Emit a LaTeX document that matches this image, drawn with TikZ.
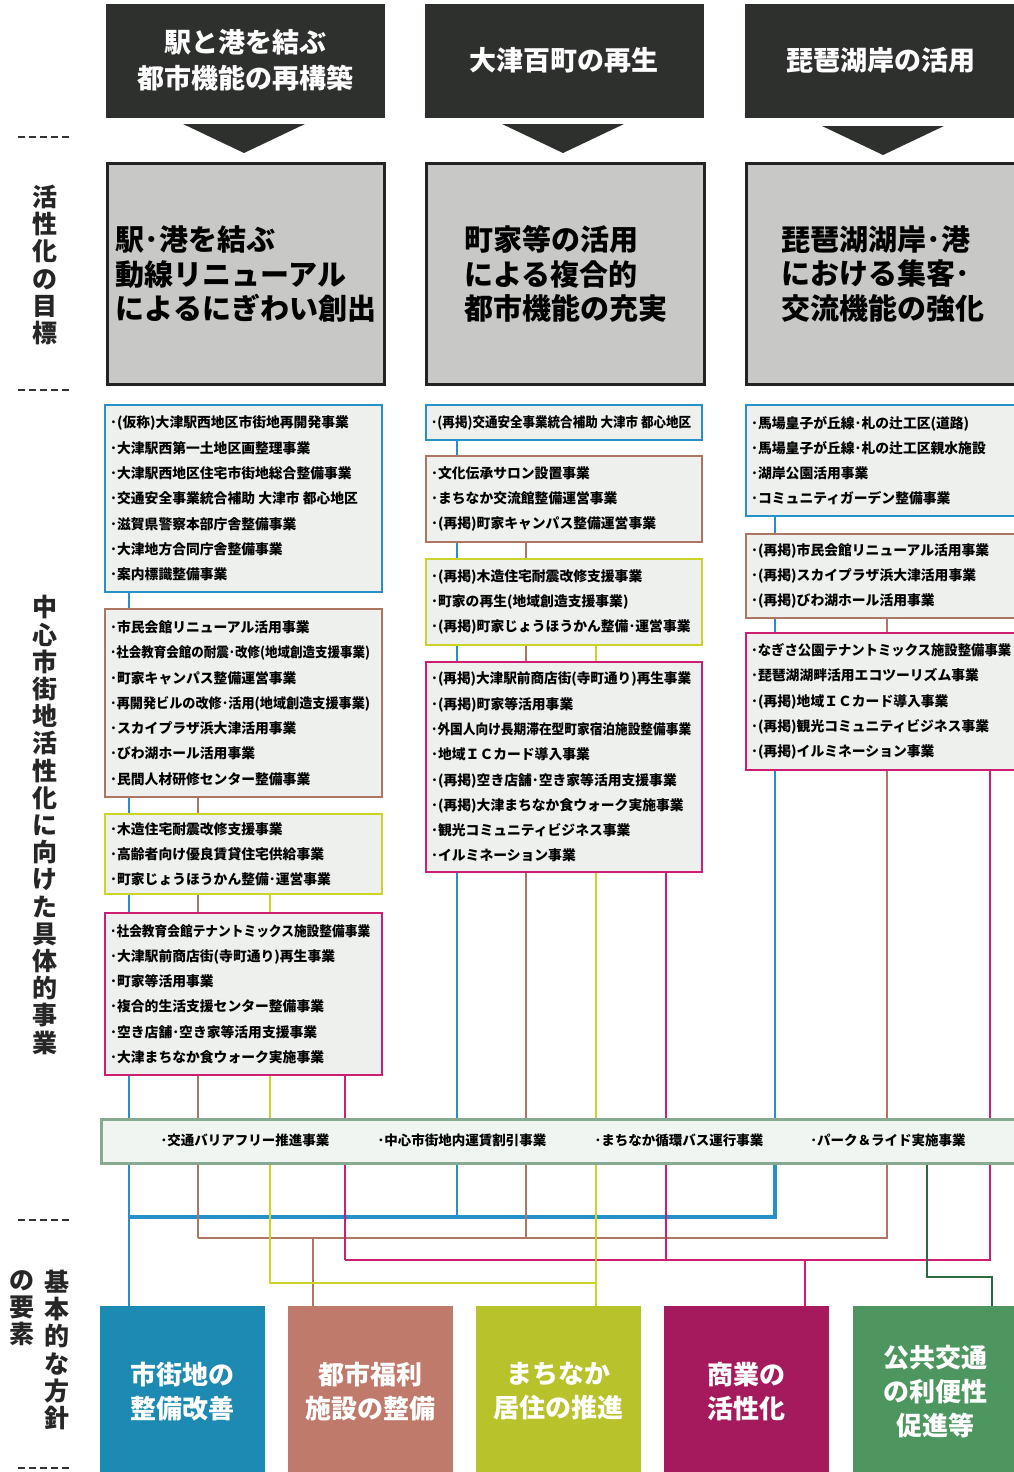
\documentclass[tikz,border=0pt]{standalone}
\usepackage{graphicx}
\usepackage{fontspec}
\setmainfont{Noto Sans CJK JP}
\pgfdeclarelayer{bg}
\pgfsetlayers{bg,main}
\definecolor{hdr}{RGB}{46,48,46}
\definecolor{goalfill}{RGB}{200,201,198}
\definecolor{goalline}{RGB}{35,35,35}
\definecolor{pfill}{RGB}{238,240,238}
\definecolor{cB}{RGB}{38,145,200}
\definecolor{cR}{RGB}{172,118,98}
\definecolor{cY}{RGB}{205,212,40}
\definecolor{cM}{RGB}{205,30,115}
\definecolor{cG}{RGB}{45,105,65}
\definecolor{barline}{RGB}{135,168,145}
\definecolor{barfill}{RGB}{241,245,241}
\definecolor{fB}{RGB}{28,138,178}
\definecolor{fR}{RGB}{192,122,108}
\definecolor{fY}{RGB}{184,194,42}
\definecolor{fM}{RGB}{165,26,92}
\definecolor{fG}{RGB}{78,150,96}
\newcommand\myhdrfont{\bfseries\fontsize{27}{36}\selectfont}
\newcommand\mygoalfont{\bfseries\fontsize{29}{34.5}\selectfont}
\newcommand\myitemfont{\bfseries\fontsize{13.8}{25.3}\selectfont}
\newcommand\mybarfont{\bfseries\fontsize{13.5}{15}\selectfont}
\newcommand\mybasefont{\bfseries\fontsize{26}{34}\selectfont}
\newcommand\mysidefont{\bfseries\fontsize{25}{27.2}\selectfont}
\newsavebox\itmbox
\newlength\itmmax
\setlength\itmmax{260pt}
\newcommand\itm[1]{\sbox\itmbox{#1}\ifdim\wd\itmbox>\itmmax\relax\resizebox{\itmmax}{\ht\itmbox}{\usebox\itmbox}\else\usebox\itmbox\fi}
\tikzset{
  hdrbox/.style={fill=hdr, draw=hdr, anchor=north west, inner sep=0pt, text=white, font=\myhdrfont, align=center},
  goalbox/.style={fill=goalfill, draw=goalline, line width=3pt, anchor=north west, inner sep=0pt, align=left, font=\mygoalfont},
  pbox/.style={fill=pfill, draw=#1, line width=2.2pt, anchor=north west, inner sep=0pt},
  ptext/.style={anchor=west, align=left, font=\myitemfont, inner sep=0pt},
  bartext/.style={font=\mybarfont, inner sep=0pt},
  basebox/.style={fill=#1, draw=none, anchor=north west, inner sep=0pt, text=white, font=\mybasefont, align=center},
  conn/.style={draw=#1, line width=2.3pt},
  sidelabel/.style={font=\mysidefont, align=center, inner sep=0pt, text=black!85},
  sidedash/.style={line width=2.4pt, dash pattern=on 7pt off 4pt, draw=black!80}
}
\begin{document}
\begin{tikzpicture}[x=1pt,y=-1pt]
\useasboundingbox (0,0) rectangle (1014,1472);
\begin{pgfonlayer}{bg}
\fill[white] (0,0) rectangle (1014,1472);
\end{pgfonlayer}

% side dashes
\draw[sidedash] (18,137) -- (70,137);
\draw[sidedash] (18,390) -- (70,390);
\draw[sidedash] (18,1220) -- (70,1220);
\draw[sidedash] (18,1468) -- (70,1468);

% side labels
\node[sidelabel, anchor=center] (s1) at (45,265) {活\\性\\化\\の\\目\\標};
\node[sidelabel, anchor=center] (s2) at (45,825) {中\\心\\市\\街\\地\\活\\性\\化\\に\\向\\け\\た\\具\\体\\的\\事\\業};
\node[sidelabel, anchor=north] (s3) at (57,1270) {基\\本\\的\\な\\方\\針};
\node[sidelabel, anchor=north] (s4) at (22,1270) {の\\要\\素};

% header boxes
\node[hdrbox, minimum width=278, minimum height=113] (h1) at (106,4) {駅と港を結ぶ\\都市機能の再構築};
\node[hdrbox, minimum width=278, minimum height=113] (h2) at (425,4) {大津百町の再生};
\node[hdrbox, minimum width=272, minimum height=113] (h3) at (745,4) {琵琶湖岸の活用};
\fill[hdr] (183,124) -- (305,124) -- (244,153) -- cycle;
\fill[hdr] (502,124) -- (624,124) -- (563,153) -- cycle;
\fill[hdr] (822,126) -- (944,126) -- (883,155) -- cycle;

% goal boxes
\node[goalbox, minimum width=277, minimum height=221] (g1) at (106,162) {駅･港を結ぶ\\動線リニューアル\\によるにぎわい創出};
\node[goalbox, minimum width=278, minimum height=221] (g2) at (425,162) {町家等の活用\\による複合的\\都市機能の充実};
\node[goalbox, minimum width=273, minimum height=221] (g3) at (745,162) {琵琶湖湖岸･港\\における集客･\\交流機能の強化};

% x positions of connectors
\coordinate (xLB) at (129,0);
\coordinate (xLR) at (198,0);
\coordinate (xLY) at (270,0);
\coordinate (xLM) at (345,0);
\coordinate (xMB) at (457,0);
\coordinate (xMR) at (526,0);
\coordinate (xMY) at (596,0);
\coordinate (xMM) at (666,0);
\coordinate (xRB) at (775,0);
\coordinate (xRR) at (887,0);
\coordinate (xRM) at (990,0);
\coordinate (xG) at (927,0);
\coordinate (xG2) at (992,0);
\coordinate (xD2) at (313,0);
\coordinate (xD4) at (805,0);
\coordinate (hb) at (0,1217);
\coordinate (hr) at (0,1238);
\coordinate (hm) at (0,1260);
\coordinate (hg) at (0,1277);
\coordinate (hy) at (0,1283);

% left column
\node[pbox=cB, minimum width=277, minimum height=187] (lb) at (104,404) {};
\node[ptext] (lbt) at ([xshift=6pt]lb.west) {\itm{･(仮称)大津駅西地区市街地再開発事業}\\\itm{･大津駅西第一土地区画整理事業}\\\itm{･大津駅西地区住宅市街地総合整備事業}\\\itm{･交通安全事業統合補助 大津市 都心地区}\\\itm{･滋賀県警察本部庁舎整備事業}\\\itm{･大津地方合同庁舎整備事業}\\\itm{･案内標識整備事業}};
\node[pbox=cR, minimum width=277, minimum height=188] (lr) at (104,608) {};
\node[ptext] (lrt) at ([xshift=6pt]lr.west) {\itm{･市民会館リニューアル活用事業}\\\itm{･社会教育会館の耐震･改修(地域創造支援事業)}\\\itm{･町家キャンパス整備運営事業}\\\itm{･再開発ビルの改修･活用(地域創造支援事業)}\\\itm{･スカイプラザ浜大津活用事業}\\\itm{･びわ湖ホール活用事業}\\\itm{･民間人材研修センター整備事業}};
\node[pbox=cY, minimum width=277, minimum height=80] (ly) at (104,813) {};
\node[ptext] (lyt) at ([xshift=6pt]ly.west) {\itm{･木造住宅耐震改修支援事業}\\\itm{･高齢者向け優良賃貸住宅供給事業}\\\itm{･町家じょうほうかん整備･運営事業}};
\node[pbox=cM, minimum width=277, minimum height=162] (lm) at (104,912) {};
\node[ptext] (lmt) at ([xshift=6pt]lm.west) {\itm{･社会教育会館テナントミックス施設整備事業}\\\itm{･大津駅前商店街(寺町通り)再生事業}\\\itm{･町家等活用事業}\\\itm{･複合的生活支援センター整備事業}\\\itm{･空き店舗･空き家等活用支援事業}\\\itm{･大津まちなか食ウォーク実施事業}};

% middle column
\node[pbox=cB, minimum width=276, minimum height=35] (mb) at (425,404) {};
\node[ptext] (mbt) at ([xshift=6pt]mb.west) {\itm{･(再掲)交通安全事業統合補助 大津市 都心地区}};
\node[pbox=cR, minimum width=276, minimum height=86] (mr) at (425,455) {};
\node[ptext] (mrt) at ([xshift=6pt]mr.west) {\itm{･文化伝承サロン設置事業}\\\itm{･まちなか交流館整備運営事業}\\\itm{･(再掲)町家キャンパス整備運営事業}};
\node[pbox=cY, minimum width=276, minimum height=86] (my) at (425,558) {};
\node[ptext] (myt) at ([xshift=6pt]my.west) {\itm{･(再掲)木造住宅耐震改修支援事業}\\\itm{･町家の再生(地域創造支援事業)}\\\itm{･(再掲)町家じょうほうかん整備･運営事業}};
\node[pbox=cM, minimum width=276, minimum height=210] (mm) at (425,661) {};
\node[ptext] (mmt) at ([xshift=6pt]mm.west) {\itm{･(再掲)大津駅前商店街(寺町通り)再生事業}\\\itm{･(再掲)町家等活用事業}\\\itm{･外国人向け長期滞在型町家宿泊施設整備事業}\\\itm{･地域ＩＣカード導入事業}\\\itm{･(再掲)空き店舗･空き家等活用支援事業}\\\itm{･(再掲)大津まちなか食ウォーク実施事業}\\\itm{･観光コミュニティビジネス事業}\\\itm{･イルミネーション事業}};

% right column
\node[pbox=cB, minimum width=272, minimum height=111] (rb) at (745,404) {};
\node[ptext] (rbt) at ([xshift=6pt]rb.west) {\itm{･馬場皇子が丘線･札の辻工区(道路)}\\\itm{･馬場皇子が丘線･札の辻工区親水施設}\\\itm{･湖岸公園活用事業}\\\itm{･コミュニティガーデン整備事業}};
\node[pbox=cR, minimum width=272, minimum height=84] (rr) at (745,533) {};
\node[ptext] (rrt) at ([xshift=6pt]rr.west) {\itm{･(再掲)市民会館リニューアル活用事業}\\\itm{･(再掲)スカイプラザ浜大津活用事業}\\\itm{･(再掲)びわ湖ホール活用事業}};
\node[pbox=cM, minimum width=272, minimum height=137] (rm) at (745,632) {};
\node[ptext] (rmt) at ([xshift=6pt]rm.west) {\itm{･なぎさ公園テナントミックス施設整備事業}\\\itm{･琵琶湖湖畔活用エコツーリズム事業}\\\itm{･(再掲)地域ＩＣカード導入事業}\\\itm{･(再掲)観光コミュニティビジネス事業}\\\itm{･(再掲)イルミネーション事業}};

% bar
\node[fill=barfill, draw=barline, line width=3pt, anchor=north west, minimum width=918, minimum height=44, inner sep=0pt] (bar) at (100,1118) {};
\node[bartext] (bt1) at (245,1140) {･交通バリアフリー推進事業};
\node[bartext] (bt2) at (462,1140) {･中心市街地内運賃割引事業};
\node[bartext] (bt3) at (679,1140) {･まちなか循環バス運行事業};
\node[bartext] (bt4) at (888,1140) {･パーク＆ライド実施事業};

% basic policy boxes
\node[basebox=fB, minimum width=165, minimum height=170] (b1) at (100,1306) {市街地の\\整備改善};
\node[basebox=fR, minimum width=165, minimum height=170] (b2) at (288,1306) {都市福利\\施設の整備};
\node[basebox=fY, minimum width=165, minimum height=170] (b3) at (476,1306) {まちなか\\居住の推進};
\node[basebox=fM, minimum width=165, minimum height=170] (b4) at (664,1306) {商業の\\活性化};
\node[basebox=fG, minimum width=165, minimum height=170] (b5) at (853,1306) {公共交通\\の利便性\\促進等};

% connectors (behind boxes)
\begin{pgfonlayer}{bg}
\draw[conn=cB] (lb.south -| xLB) -- (bar.north -| xLB);
\draw[conn=cR] (lr.south -| xLR) -- (bar.north -| xLR);
\draw[conn=cY] (ly.south -| xLY) -- (bar.north -| xLY);
\draw[conn=cM] (lm.south -| xLM) -- (bar.north -| xLM);
\draw[conn=cB] (mb.south -| xMB) -- (bar.north -| xMB);
\draw[conn=cR] (mr.south -| xMR) -- (bar.north -| xMR);
\draw[conn=cY] (my.south -| xMY) -- (bar.north -| xMY);
\draw[conn=cM] (mm.south -| xMM) -- (bar.north -| xMM);
\draw[conn=cB] (rb.south -| xRB) -- (bar.north -| xRB);
\draw[conn=cR] (rr.south -| xRR) -- (bar.north -| xRR);
\draw[conn=cM] (rm.south -| xRM) -- (bar.north -| xRM);
% below the bar
\draw[conn=cB] (bar.south -| xLB) -- (b1.north -| xLB);
\draw[conn=cB] (bar.south -| xMB) -- (xMB |- hb);
\draw[conn=cB, line width=3.2pt] (bar.south -| xRB) |- (xLB |- hb);
\draw[conn=cR] (bar.south -| xLR) -- (xLR |- hr);
\draw[conn=cR] (bar.south -| xMR) -- (xMR |- hr);
\draw[conn=cR] (bar.south -| xRR) |- (xLR |- hr);
\draw[conn=cR] (xD2 |- hr) -- (b2.north -| xD2);
\draw[conn=cM] (bar.south -| xLM) -- (xLM |- hm);
\draw[conn=cM] (bar.south -| xMM) -- (xMM |- hm);
\draw[conn=cM] (bar.south -| xRM) |- (xLM |- hm);
\draw[conn=cM] (xD4 |- hm) -- (b4.north -| xD4);
\draw[conn=cY] (bar.south -| xLY) |- (xMY |- hy);
\draw[conn=cY] (bar.south -| xMY) -- (b3.north -| xMY);
\draw[conn=cG] (bar.south -| xG) |- (xG2 |- hg) -- (b5.north -| xG2);
\end{pgfonlayer}
\end{tikzpicture}
\end{document}
